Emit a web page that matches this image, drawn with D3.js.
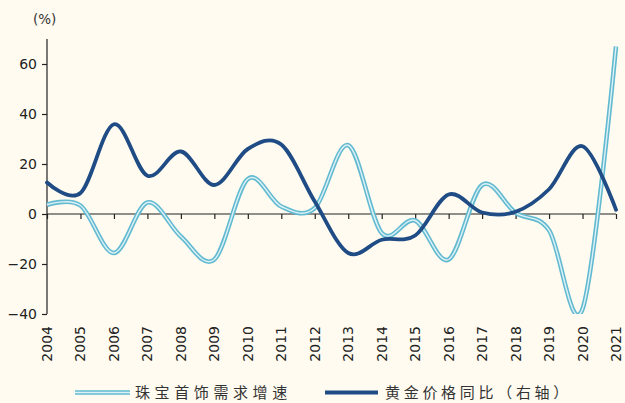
<!DOCTYPE html>
<html><head><meta charset="utf-8">
<script src="https://cdn.jsdelivr.net/npm/d3@7"></script>
<style>
html,body{margin:0;padding:0;background:#FFFBF0;}
svg{display:block;}
</style></head>
<body>
<svg id="chart" width="625" height="403"></svg>
<script>
const years = ["2004","2005","2006","2007","2008","2009","2010","2011","2012","2013","2014","2015","2016","2017","2018","2019","2020","2021"];
const jewelryGrowth = [3.7, 3.4, -15.6, 4.6, -9.0, -18.2, 14.0, 3.0, 2.4, 27.5, -7.6, -2.6, -18.2, 11.6, 0.5, -6.5, -38.0, 67.0];
const goldYoY = [12.6, 8.4, 35.9, 15.3, 25.0, 11.6, 26.0, 27.8, 5.0, -15.6, -10.3, -8.6, 7.8, 0.6, 0.9, 9.9, 27.1, 1.7];
const yTicks = [-40, -20, 0, 20, 40, 60];
const seriesNames = ["珠宝首饰需求增速", "黄金价格同比（右轴）"];

const svg = d3.select("#chart");
const W = 625, H = 403;
svg.append("rect").attr("width", W).attr("height", H).attr("fill", "#FFFBF0");

const x = d3.scalePoint().domain(years).range([47, 616]);
const y = d3.scaleLinear().domain([-40, 70]).range([314, 39]);

const numFont = "'DejaVu Sans', Verdana, sans-serif";
const cjkFont = "'Noto Sans CJK SC', sans-serif";

// clip
svg.append("defs").append("clipPath").attr("id", "plotclip")
  .append("rect").attr("x", 40).attr("y", y(70) - 5).attr("width", 590).attr("height", y(-40) - y(70) + 5);

// y axis
const yAxis = d3.axisLeft(y).tickValues(yTicks).tickSize(5).tickPadding(5).tickFormat(d3.format("d"));
const gy = svg.append("g").attr("transform", `translate(${x(years[0])},0)`).call(yAxis);
gy.select(".domain").attr("d", `M0,${y(70)}V${y(-40)}`).attr("stroke", "#222").attr("stroke-width", 1.2);
gy.selectAll(".tick line").attr("stroke", "#222").attr("stroke-width", 1.2);
gy.selectAll(".tick text").attr("font-family", numFont).attr("font-size", 14).attr("fill", "#222");

// x axis at zero
const xAxis = d3.axisBottom(x).tickSize(5).tickFormat(d => d);
const gx = svg.append("g").attr("transform", `translate(0,${y(0)})`).call(xAxis);
gx.select(".domain").attr("d", `M${x(years[0])},0H${x(years[years.length-1])}`).attr("stroke", "#222").attr("stroke-width", 1.2);
gx.selectAll(".tick line").attr("stroke", "#222").attr("stroke-width", 1.2);
gx.selectAll(".tick text").remove();

// year labels at bottom, rotated
svg.append("g").selectAll("text").data(years).join("text")
  .attr("transform", d => `translate(${x(d) + 5},326) rotate(-90)`)
  .attr("text-anchor", "end")
  .attr("font-family", numFont).attr("font-size", 14).attr("fill", "#222")
  .text(d => d);

// unit
svg.append("text").attr("x", 33).attr("y", 24).attr("font-family", numFont).attr("font-size", 13.5).attr("fill", "#333").text("(%)");

const line = d3.line().x((d, i) => x(years[i])).y(d => y(d)).curve(d3.curveCardinal.tension(0));

const plot = svg.append("g").attr("clip-path", "url(#plotclip)");
// jewelry double line
plot.append("path").attr("d", line(jewelryGrowth)).attr("fill", "none").attr("stroke", "#62BAD1").attr("stroke-width", 4.6).attr("stroke-linejoin", "round");
plot.append("path").attr("d", line(jewelryGrowth)).attr("fill", "none").attr("stroke", "#DDF1F6").attr("stroke-width", 1.4).attr("stroke-linejoin", "round");
// gold
plot.append("path").attr("d", line(goldYoY)).attr("fill", "none").attr("stroke", "#1F4C85").attr("stroke-width", 3.8).attr("stroke-linejoin", "round").attr("stroke-linecap", "round");

// legend
const lg = svg.append("g");
lg.append("line").attr("x1", 75).attr("x2", 130).attr("y1", 392.5).attr("y2", 392.5).attr("stroke", "#62BAD1").attr("stroke-width", 4.6);
lg.append("line").attr("x1", 75).attr("x2", 130).attr("y1", 392.5).attr("y2", 392.5).attr("stroke", "#DDF1F6").attr("stroke-width", 1.4);
lg.append("text").attr("x", 135).attr("y", 398).attr("font-family", cjkFont).attr("font-size", 15).attr("letter-spacing", 4.6).attr("fill", "#333").text(seriesNames[0]);
lg.append("line").attr("x1", 325).attr("x2", 378).attr("y1", 392.5).attr("y2", 392.5).attr("stroke", "#1F4C85").attr("stroke-width", 3.8);
lg.append("text").attr("x", 385).attr("y", 398).attr("font-family", cjkFont).attr("font-size", 15).attr("letter-spacing", 3.7).attr("fill", "#333").text(seriesNames[1]);
</script>
</body></html>
